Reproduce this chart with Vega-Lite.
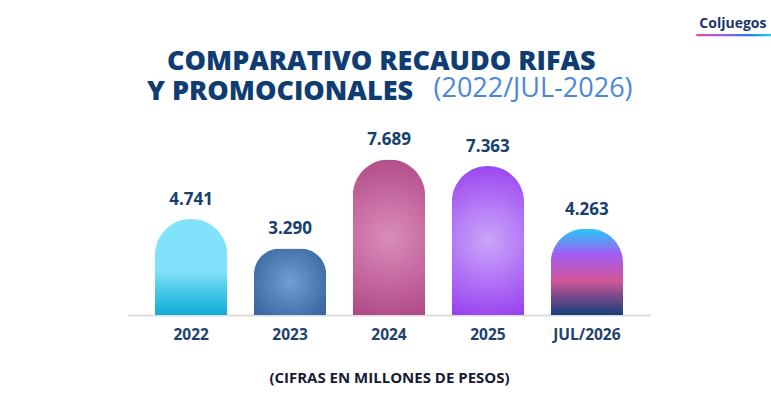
{
  "$schema": "https://vega.github.io/schema/vega-lite/v6.json",
  "autosize": {"type": "none"},
  "padding": {"left": 128, "top": 143, "right": 121, "bottom": 88},
  "width": 522,
  "height": 172,
  "background": "white",
  "config": {
    "view": {"stroke": null},
    "locale": {"number": {"decimal": ",", "thousands": ".", "grouping": [3], "currency": ["$", ""]}}
  },
  "title": {
    "text": ["\u2800COMPARATIVO RECAUDO RIFAS", "Y PROMOCIONALES"],
    "anchor": "start",
    "frame": "group",
    "dx": 19,
    "offset": -90,
    "font": "Open Sans",
    "fontWeight": 800,
    "fontSize": 27,
    "lineHeight": 30,
    "color": "#0f3d72"
  },
  "data": {
    "values": [
      {"periodo": "2022", "valor": 4741},
      {"periodo": "2023", "valor": 3290},
      {"periodo": "2024", "valor": 7689},
      {"periodo": "2025", "valor": 7363},
      {"periodo": "JUL/2026", "valor": 4263}
    ]
  },
  "encoding": {
    "x": {
      "field": "periodo",
      "type": "nominal",
      "sort": null,
      "scale": {"paddingInner": 0.27, "paddingOuter": 0.273},
      "axis": null
    },
    "y": {
      "field": "valor",
      "type": "quantitative",
      "scale": {"domain": [0, 8500], "nice": false},
      "axis": null
    }
  },
  "resolve": {"axis": {"x": "independent", "y": "independent"}},
  "layer": [
    {
      "transform": [{"filter": {"field": "periodo", "equal": "2022"}}],
      "mark": {
        "type": "bar",
        "cornerRadiusEnd": 36,
        "color": {
          "gradient": "linear", "x1": 0, "y1": 0, "x2": 0, "y2": 1,
          "stops": [
            {"offset": 0, "color": "#80e2fb"},
            {"offset": 0.55, "color": "#7fe0f9"},
            {"offset": 0.75, "color": "#48c8ea"},
            {"offset": 1, "color": "#10abd5"}
          ]
        }
      },
      "encoding": {
        "x": {
          "field": "periodo",
          "type": "nominal",
          "sort": null,
          "axis": {
            "orient": "bottom",
            "title": "(CIFRAS EN MILLONES DE PESOS)",
            "labelAngle": 0,
            "labelFont": "Open Sans",
            "labelFontWeight": 700,
            "labelFontSize": 15.5,
            "labelColor": "#1d416f",
            "labelPadding": 12,
            "ticks": false,
            "domainColor": "#dcdcdc",
            "domainWidth": 2,
            "titleFont": "Open Sans",
            "titleFontWeight": 700,
            "titleFontSize": 15,
            "titleColor": "#171a35",
            "titlePadding": 28
          }
        },
        "y": {
          "field": "valor",
          "type": "quantitative",
          "axis": {
            "orient": "right",
            "title": "Coljuegos",
            "titleAngle": 0,
            "titleAlign": "right",
            "titleBaseline": "alphabetic",
            "titleX": 116,
            "titleY": -116,
            "titleFont": "Open Sans",
            "titleFontSize": 14,
            "titleFontWeight": 700,
            "titleColor": "#1b3768",
            "labels": false,
            "ticks": false,
            "domain": false,
            "grid": false
          }
        }
      }
    },
    {
      "transform": [{"filter": {"field": "periodo", "equal": "2023"}}],
      "mark": {
        "type": "bar",
        "cornerRadiusEnd": 26,
        "color": {
          "gradient": "radial", "x1": 0.5, "y1": 0.5, "x2": 0.5, "y2": 0.5, "r1": 0, "r2": 0.6,
          "stops": [
            {"offset": 0, "color": "#6f9fd6"},
            {"offset": 1, "color": "#3a68a0"}
          ]
        }
      }
    },
    {
      "transform": [{"filter": {"field": "periodo", "equal": "2024"}}],
      "mark": {
        "type": "bar",
        "cornerRadiusEnd": 36,
        "color": {
          "gradient": "radial", "x1": 0.5, "y1": 0.5, "x2": 0.5, "y2": 0.5, "r1": 0, "r2": 0.6,
          "stops": [
            {"offset": 0, "color": "#db8cbd"},
            {"offset": 1, "color": "#ab427e"}
          ]
        }
      }
    },
    {
      "transform": [{"filter": {"field": "periodo", "equal": "2025"}}],
      "mark": {
        "type": "bar",
        "cornerRadiusEnd": 36,
        "color": {
          "gradient": "radial", "x1": 0.5, "y1": 0.5, "x2": 0.5, "y2": 0.5, "r1": 0, "r2": 0.6,
          "stops": [
            {"offset": 0, "color": "#cba6fa"},
            {"offset": 1, "color": "#9336ee"}
          ]
        }
      }
    },
    {
      "transform": [{"filter": {"field": "periodo", "equal": "JUL/2026"}}],
      "mark": {
        "type": "bar",
        "cornerRadiusEnd": 34,
        "color": {
          "gradient": "linear", "x1": 0, "y1": 0, "x2": 0, "y2": 1,
          "stops": [
            {"offset": 0, "color": "#27c9f9"},
            {"offset": 0.3, "color": "#a35cf2"},
            {"offset": 0.6, "color": "#d3579a"},
            {"offset": 0.78, "color": "#7a4a88"},
            {"offset": 1, "color": "#163f7a"}
          ]
        }
      }
    },
    {
      "mark": {
        "type": "text",
        "baseline": "alphabetic",
        "dy": -14,
        "font": "Open Sans",
        "fontWeight": 700,
        "fontSize": 17,
        "color": "#15406f"
      },
      "encoding": {
        "text": {"field": "valor", "type": "quantitative", "format": ","},
        "x": {
          "field": "periodo",
          "type": "nominal",
          "sort": null,
          "axis": {
            "orient": "top",
            "title": "(2022/JUL-2026)",
            "titleAngle": 0,
            "titleAlign": "left",
            "titleAnchor": null,
            "titleBaseline": "alphabetic",
            "titleX": 305,
            "titleY": -47,
            "titleFont": "Open Sans",
            "titleFontSize": 27,
            "titleFontWeight": 400,
            "titleColor": "#4a87d9",
            "labels": false,
            "ticks": false,
            "domain": false,
            "grid": false
          }
        },
        "y": {
          "field": "valor",
          "type": "quantitative",
          "axis": {
            "orient": "left",
            "title": "\u2501\u2501\u2501\u2501\u2501\u2501\u2501\u2501\u2501",
            "titleAngle": 0,
            "titleAlign": "left",
            "titleBaseline": "middle",
            "titleX": 568,
            "titleY": -108,
            "titleFont": "DejaVu Sans",
            "titleFontSize": 14,
            "titleFontWeight": 400,
            "titleColor": {"value": {
              "gradient": "linear", "x1": 0, "y1": 0, "x2": 1, "y2": 0,
              "stops": [
                {"offset": 0, "color": "#d0509a"},
                {"offset": 0.35, "color": "#9b5cf0"},
                {"offset": 0.7, "color": "#1a7ee0"},
                {"offset": 1, "color": "#22d8f0"}
              ]
            }},
            "labels": false,
            "ticks": false,
            "domain": false,
            "grid": false
          }
        }
      }
    }
  ]
}
